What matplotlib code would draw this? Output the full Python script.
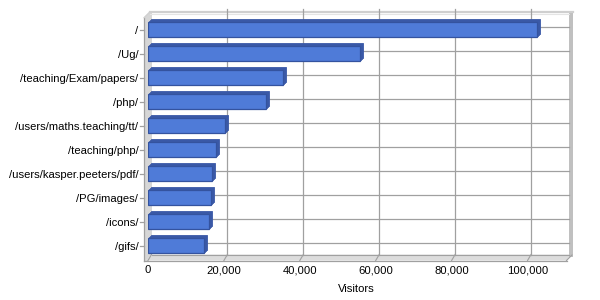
import matplotlib
matplotlib.use("Agg")
import matplotlib.pyplot as plt
from matplotlib.patches import Polygon
from matplotlib.transforms import ScaledTranslation, IdentityTransform

categories = ["/", "/Ug/", "/teaching/Exam/papers/", "/php/", "/users/maths.teaching/tt/",
              "/teaching/php/", "/users/kasper.peeters/pdf/", "/PG/images/", "/icons/", "/gifs/"]
visitors = [102600, 55900, 35650, 31000, 20400, 18000, 16950, 16700, 16000, 14650]
xticks = [0, 20000, 40000, 60000, 80000, 100000]
xticklabels = ["0", "20,000", "40,000", "60,000", "80,000", "100,000"]
xmax = 110000

plt.rcParams['font.family'] = ['Liberation Sans', 'DejaVu Sans']

W, H = 600, 300
fig = plt.figure(figsize=(6, 3), dpi=100)
fig.patch.set_facecolor('white')

L, R = 148, 565.5
T, B = 18.5, 258.5
ax = fig.add_axes([L / W, 1 - B / H, (R - L) / W, (B - T) / H])
ax.set_xlim(0, xmax)
ax.set_ylim(len(categories) - 0.5, -0.5)
ax.patch.set_visible(False)
for s in ax.spines.values():
    s.set_visible(False)

DX, DY = 3.5, 4.0  # depth offset in pixels (right, up)
back = ax.transData + ScaledTranslation(DX / 100, DY / 100, fig.dpi_scale_trans)
ident = IdentityTransform()

def P(x, y):
    return (x, H - y)

gcol = '#a0a0a0'
wall = '#d6d6d6'

# left wall slab
ax.add_patch(Polygon([P(144, 17.7), P(150, 11.7), P(152, 13), P(152, 254.5), P(148, 258.5), P(148, 261), P(144, 261)],
                     closed=True, facecolor=wall, edgecolor='none', transform=ident, clip_on=False, zorder=0.2))
# back wall (white)
ax.add_patch(Polygon([P(151.5, 13), P(569, 13), P(569, 254.5), P(151.5, 254.5)],
                     closed=True, facecolor='white', edgecolor='none', transform=ident, clip_on=False, zorder=0.3))
# floor slab
ax.add_patch(Polygon([P(148, 258.5), P(151.5, 254.5), P(571.5, 254.5), P(566.5, 260.5), P(144, 260.5)],
                     closed=True, facecolor='#dcdcdc', edgecolor='none', transform=ident, clip_on=False, zorder=0.3))
# right wall
ax.add_patch(Polygon([P(569, 11.5), P(573, 11.5), P(573, 257), P(569, 257)],
                     closed=True, facecolor='#c0c0c0', edgecolor='none', transform=ident, clip_on=False, zorder=0.4))
# top edge
ax.plot([150, 573], [H - 12, H - 12], color='#cfcfcf', lw=1.6, transform=ident, clip_on=False, zorder=0.4)
ax.plot([150, 569], [H - 13.8, H - 13.8], color='#e4e4e4', lw=0.8, transform=ident, clip_on=False, zorder=0.4)

# gridlines on back wall
for v in xticks[1:]:
    ax.plot([v, v], [len(categories) - 0.5, -0.72], color=gcol, lw=0.9, transform=back, clip_on=False, zorder=0.5)
for i in range(len(categories)):
    ax.plot([0, xmax], [i, i], color=gcol, lw=0.9, transform=back, clip_on=False, zorder=0.5)
# floor lines
ax.plot([0, xmax], [len(categories) - 0.5] * 2, color=gcol, lw=0.8, transform=back, clip_on=False, zorder=0.5)
ax.plot([144, 566.5], [H - 260.5, H - 260.5], color=gcol, lw=0.9, transform=ident, clip_on=False, zorder=0.6)
ax.plot([566.5, 572], [H - 260.5, H - 255], color=gcol, lw=0.8, transform=ident, clip_on=False, zorder=0.6)
for v in xticks:
    x0 = ax.transData.transform((v, 0))[0]
    ax.plot([x0, x0 + DX], [H - 260.5, H - 254.5], color=gcol, lw=0.8, transform=ident, clip_on=False, zorder=0.6)
# left axis line
ax.plot([144, 144], [H - 17.7, H - 261], color=gcol, lw=0.9, transform=ident, clip_on=False, zorder=0.6)
ax.plot([144, 150], [H - 17.7, H - 11.7], color='#cfcfcf', lw=0.9, transform=ident, clip_on=False, zorder=0.6)
# y tick marks
for i in range(len(categories)):
    yp = ax.transData.transform((0, i))[1] + 0.5
    ax.plot([140, 144], [yp, yp], color=gcol, lw=0.9, transform=ident, clip_on=False, zorder=0.6)

# bars with depth
ypos = list(range(len(categories)))
bh = 0.63
yshift = -0.03
for k in (3, 2, 1):
    tr = ax.transData + ScaledTranslation(k / 100, k / 100, fig.dpi_scale_trans)
    ax.barh([y + yshift for y in ypos], visitors, height=bh, color='#3d5fb0', edgecolor='#3a58a6',
            linewidth=0.6, transform=tr, zorder=2)
ax.barh([y + yshift for y in ypos], visitors, height=bh, color='#4f7bd8', edgecolor='#34539f',
        linewidth=0.9, zorder=3)

ax.set_yticks(ypos)
ax.set_yticklabels(categories, fontsize=8.1)
ax.tick_params(axis='y', length=0, pad=7)
ax.set_xticks(xticks)
ax.set_xticklabels(xticklabels, fontsize=8.1)
ax.tick_params(axis='x', length=0, pad=5)
ax.set_xlabel("Visitors", fontsize=8.1, labelpad=6)

fig.savefig("out.png", dpi=100)
